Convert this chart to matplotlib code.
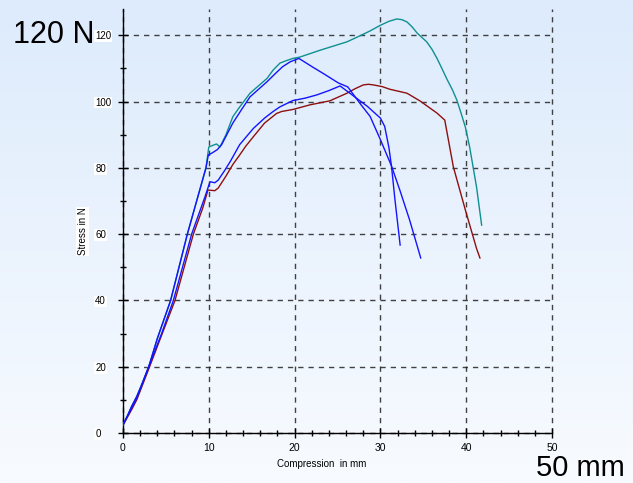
import numpy as np
import matplotlib
matplotlib.use("Agg")
import matplotlib.pyplot as plt
from matplotlib.ticker import MultipleLocator

plt.rcParams['font.family'] = ['Liberation Sans', 'DejaVu Sans']

# ---- data ----
blue1_x = [0, 0.5, 1, 1.6, 2.2, 3.0, 4, 5.55, 7.5, 9.67, 9.95, 10.4, 11.0, 11.5, 12.0, 12.8,
           13.8, 14.8, 16.8, 17.7, 18.6, 19.5, 20.5, 22.1, 23.5, 25.1, 26.2, 27.6, 28.8, 30.0,
           31.3, 32.3, 33.4, 34.7]
blue1_y = [2.4, 5, 8, 11, 14.5, 20, 28.5, 40, 60, 80, 83.9, 84.5, 85.5, 87, 89.5, 93.5,
           97.5, 101.4, 106, 108.3, 110.5, 112, 113, 110.4, 108.2, 105.6, 104.4, 99.5, 95.5, 88.5,
           80.5, 73, 64.3, 52.8]

blue2_x = [0, 1, 1.6, 3.0, 4.5, 5.87, 8.0, 9.56, 10.14, 10.7, 11.1, 11.8, 12.5, 13.6, 15.2,
           16.5, 17.5, 18.3, 19.8, 21.2, 22.6, 24.0, 25.3, 26.7, 28.5, 30.0, 30.5, 31.0, 31.3,
           31.7, 32.3]
blue2_y = [2.4, 7.5, 10.5, 20, 30, 40, 60, 71.3, 75.8, 75.5, 76.3, 79, 81.9, 87, 91.9,
           95, 97, 98.4, 100.3, 101, 102, 103.3, 104.7, 102, 98.5, 95, 92.5, 86, 80.3,
           70.3, 56.7]

teal_x = [0, 1, 1.6, 3.0, 4, 5.55, 7.5, 9.67, 10.0, 10.9, 11.3, 12.0, 12.8, 13.5, 14.8, 16.8,
          17.5, 18.3, 19.0, 19.8, 20.6, 23, 26.1, 27.6, 28.8, 30, 31.0, 31.9, 32.5, 33.1, 33.7,
          34.3, 35.4, 36.0, 36.6, 37.2, 37.8, 38.4, 38.9, 39.4, 39.9, 40.4, 41.2, 41.8]
teal_y = [2.4, 8, 11, 20, 28.5, 40, 60, 80, 86.3, 87.2, 86.3, 90, 95.4, 98, 102.5, 107,
          109.5, 111.6, 112.3, 113, 113.4, 115.5, 118, 119.8, 121.3, 123, 124.2, 124.9, 124.7, 124,
          122.5, 120.6, 118, 115.8, 113, 109.8, 106.5, 103.5, 100.5, 96.5, 92.3, 86.3, 74.3, 62.7]

red_x = [0, 1, 1.6, 3.1, 4.5, 6.06, 8.2, 9.3, 9.9, 10.7, 11.1, 12.0, 12.8, 13.5, 14.3, 15.2,
         16.5, 17.9, 18.5, 19.8, 21.8, 24.1, 26.1, 27.0, 28.0, 28.6, 29.2, 30.2, 31.1, 33.1,
         34.6, 36.6, 37.5, 38.5, 39.9, 41.2, 41.6]
red_y = [2.4, 7, 10, 20, 29.5, 40, 60, 67.9, 73.3, 73.1, 73.9, 77.5, 81, 83.5, 86.5, 89.4,
         93.5, 96.4, 97, 97.6, 99, 100.2, 102.5, 103.8, 105, 105.2, 105, 104.5, 103.7, 102.5,
         100.2, 96.5, 94.4, 80.3, 67.3, 55.7, 52.8]

x_ticks = [0, 10, 20, 30, 40, 50]
y_ticks = [0, 20, 40, 60, 80, 100, 120]

W, H = 633, 483
fig = plt.figure(figsize=(W / 100, H / 100), dpi=100)

# background gradient
bg = fig.add_axes([0, 0, 1, 1], zorder=-10)
bg.axis('off')
top = np.array([221, 235, 252]) / 255
bot = np.array([248, 251, 255]) / 255
t = np.linspace(0, 1, 256)[:, None]
grad = top[None, :] * (1 - t) + bot[None, :] * t
grad = np.repeat(grad[:, None, :], 2, axis=1)
bg.imshow(grad, aspect='auto', extent=[0, 1, 0, 1])
bg.set_xlim(0, 1)
bg.set_ylim(0, 1)

ax_left, ax_bottom = 123 / W, 50 / H
ax = fig.add_axes([ax_left, ax_bottom, 429 / W, 424.3 / H])
ax.patch.set_alpha(0)

ax.plot(teal_x, teal_y, color='#0e9090', lw=1.0, zorder=3)
ax.plot(red_x, red_y, color='#8e0f0f', lw=1.0, zorder=3)
ax.plot(blue2_x, blue2_y, color='#1414ff', lw=1.0, zorder=4)
ax.plot(blue1_x, blue1_y, color='#1414ff', lw=1.0, zorder=4)

ax.set_xlim(0, 50)
ax.set_ylim(0, 128)
ax.set_xticks(x_ticks)
ax.set_yticks(y_ticks)
ax.xaxis.set_minor_locator(MultipleLocator(2))
ax.yaxis.set_minor_locator(MultipleLocator(10))

for s in ['top', 'right']:
    ax.spines[s].set_visible(False)
for s in ['left', 'bottom']:
    ax.spines[s].set_color('black')
    ax.spines[s].set_linewidth(1.0)

ax.tick_params(axis='both', which='major', direction='inout', length=7, width=1, colors='black',
               labelsize=7)
ax.tick_params(axis='both', which='minor', direction='inout', length=5, width=1, colors='black')
ax.tick_params(axis='x', which='major', pad=4)
ax.tick_params(axis='y', which='major', pad=16.5)
for lab in ax.get_yticklabels():
    lab.set_horizontalalignment('left')
    lab.set_bbox(dict(facecolor='white', edgecolor='none', pad=0.6))
for lab in ax.get_xticklabels():
    lab.set_fontsize(7.5)

ax.grid(True, which='major', color='#222222', lw=1.0, linestyle=(0, (3.8, 3.6)), alpha=0.85)
ax.set_axisbelow(True)
for gl in ax.get_xgridlines() + ax.get_ygridlines():
    gl.set_clip_on(False)

fig.text(82.5 / W, 1 - 231.5 / H, 'Stress in N', rotation=90, ha='center', va='center',
         fontsize=7, bbox=dict(facecolor='white', edgecolor='none', pad=0.8))
fig.text(322 / W, 1 - 464 / H, 'Compression  in mm', ha='center', va='center', fontsize=7)

fig.text(13 / W, 1 - 43 / H, '120 N', fontsize=22, va='baseline', ha='left')
fig.text(536 / W, 1 - 476 / H, '50 mm', fontsize=21, va='baseline', ha='left')

fig.savefig('out.png', dpi=100)
